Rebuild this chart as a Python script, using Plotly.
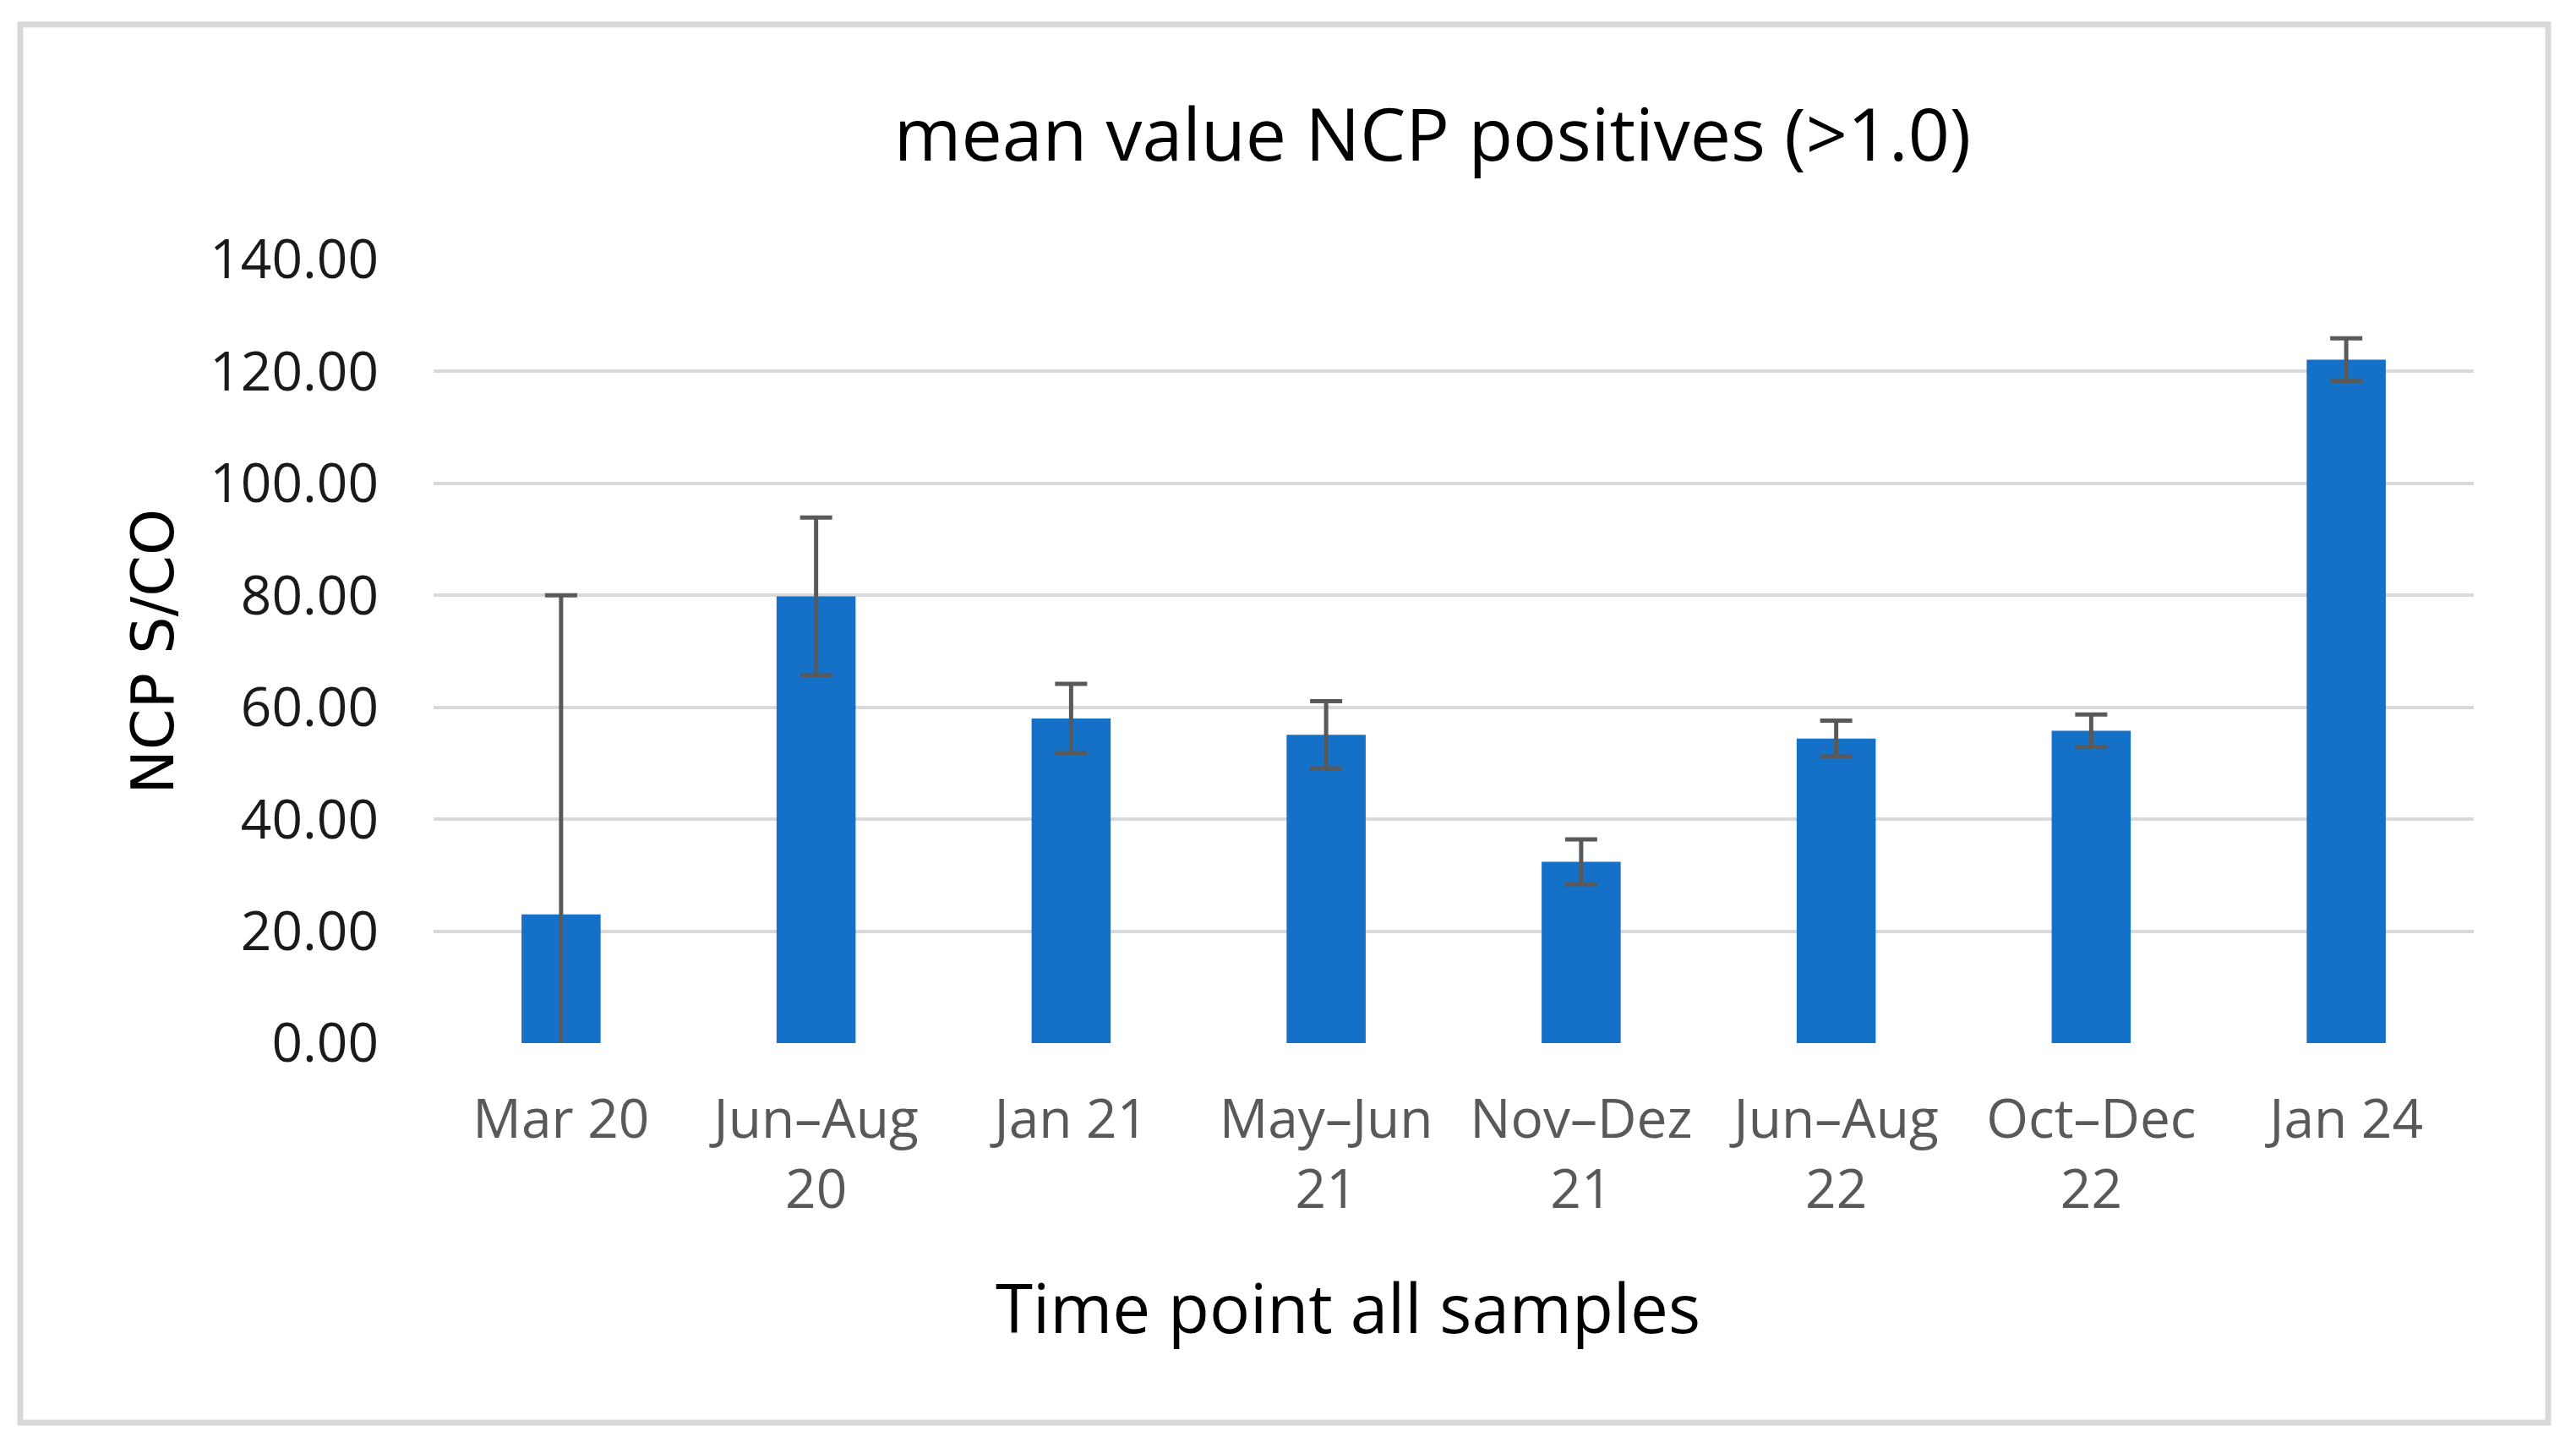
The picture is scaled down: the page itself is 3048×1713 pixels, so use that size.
import plotly.graph_objects as go

categories = ["Mar 20", "Jun–Aug<br>20", "Jan 21", "May–Jun<br>21", "Nov–Dez<br>21",
              "Jun–Aug<br>22", "Oct–Dec<br>22", "Jan 24"]
mean_values = [23.0, 79.8, 58.0, 55.1, 32.4, 54.4, 55.8, 122.1]
error_values = [57.0, 14.1, 6.2, 6.0, 4.0, 3.2, 2.9, 3.8]
y_ticks = [0, 20, 40, 60, 80, 100, 120, 140]

# page body has an 8px margin; compensate
OFF = 8
W, H = 3040, 1705
L, T = 513 - OFF, 307 - OFF
PR, PB = 2927 - OFF, 1234 - OFF
R, B = W - PR, H - PB
pw = PR - L
ph = PB - T

def px_x(p):
    return (p - OFF - L) / pw

def px_y(p):
    return (PB - (p - OFF)) / ph

fig = go.Figure()
fig.add_trace(go.Bar(
    x=categories, y=mean_values,
    marker=dict(color="#1571C8", line=dict(width=0)),
    error_y=dict(type="data", array=error_values, visible=True,
                 color="#595959", thickness=5, width=19),
))

fig.update_layout(
    width=W, height=H,
    margin=dict(l=L, r=R, t=T, b=B),
    paper_bgcolor="white", plot_bgcolor="white",
    showlegend=False,
    bargap=0.69,
    title=dict(text="mean value NCP positives (>1.0)",
               font=dict(family="Open Sans", size=86, color="#000000"),
               x=(1695 - OFF) / W, xref="container", xanchor="center",
               y=1 - (160 - OFF) / H, yref="container", yanchor="middle"),
    xaxis=dict(
        type="category",
        tickfont=dict(family="Open Sans", size=64, color="#595959"),
        showgrid=False, showline=False, zeroline=False,
        ticks="outside", ticklen=0, tickcolor="white",
        ticklabelstandoff=34,
    ),
    yaxis=dict(
        range=[0, 140], tickvals=y_ticks,
        ticktext=[f"{v:.2f}" for v in y_ticks],
        tickfont=dict(family="Open Sans", size=64, color="#1a1a1a"),
        showgrid=True, gridcolor="#D9D9D9", gridwidth=4,
        zeroline=False, showline=False,
        ticklabelstandoff=64,
    ),
    annotations=[
        dict(text="Time point all samples", xref="paper", yref="paper",
             x=px_x(1595), y=px_y(1545), xanchor="center", yanchor="middle",
             showarrow=False, font=dict(family="Open Sans", size=80, color="#000000")),
        dict(text="NCP S/CO", xref="paper", yref="paper",
             x=px_x(180), y=0.5, xanchor="center", yanchor="middle", textangle=-90,
             showarrow=False, font=dict(family="DejaVu Sans", size=70, color="#000000")),
    ],
    shapes=[
        dict(type="rect", xref="paper", yref="paper",
             x0=px_x(24), x1=px_x(3015), y0=px_y(1683), y1=px_y(29),
             line=dict(color="#D9D9D9", width=7), fillcolor="rgba(0,0,0,0)", layer="below"),
    ],
)

fig.write_html("out.html")
